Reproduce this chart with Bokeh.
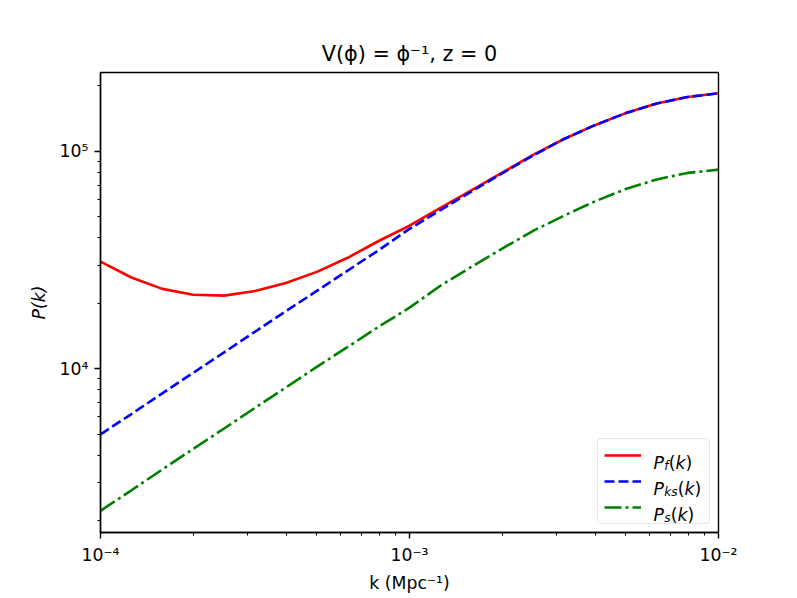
import math
from bokeh.plotting import figure
from bokeh.models import (FixedTicker, CustomJSTickFormatter, Legend, LegendItem,
                          Label, Range1d)
from bokeh.embed import file_html
from bokeh.resources import INLINE

# ---------------- data ----------------
k = [1.000e-4, 1.259e-4, 1.585e-4, 1.995e-4, 2.512e-4, 3.162e-4, 3.981e-4,
     5.012e-4, 6.310e-4, 7.943e-4, 1.000e-3, 1.259e-3, 1.585e-3, 1.995e-3,
     2.512e-3, 3.162e-3, 3.981e-3, 5.012e-3, 6.310e-3, 7.943e-3, 1.000e-2]
P_f = [31100, 26300, 23300, 21900, 21700, 22800, 24800, 27900, 32400, 38700,
       45500, 55000, 66200, 79800, 96400, 114000, 132000, 150000, 166000,
       178000, 185000]
P_ks = [4990, 6190, 7710, 9570, 11900, 14800, 18400, 22800, 28300, 35100,
        44000, 53700, 65300, 79300, 95700, 114000, 132000, 150000, 166000,
        178000, 185000]
P_s = [2220, 2760, 3440, 4280, 5310, 6610, 8200, 10200, 12600, 15600, 19100,
       24100, 29400, 35700, 43100, 50600, 58900, 67100, 74300, 79600, 82400]

x_major = [1e-4, 1e-3, 1e-2]
x_minor = [m * d for d in (1e-4, 1e-3) for m in range(2, 10)]
y_major = [1e4, 1e5]
y_minor = [m * d for d in (1e3, 1e4, 1e5) for m in range(2, 10)]

title_text = "V(ϕ) = ϕ⁻¹, z = 0"
xlabel = "k (Mpc⁻¹)"
ylabel = "P(k)"

FONT = "DejaVu Sans"
FS = 17.3          # 10pt at ~125 dpi
XR = (1e-4, 1e-2)
YR = (1765, 230600)
FW, FH = 618, 460

p = figure(x_axis_type="log", y_axis_type="log",
           x_range=Range1d(*XR), y_range=Range1d(*YR),
           frame_width=FW, frame_height=FH,
           min_border_left=100, min_border_right=79,
           min_border_top=72, min_border_bottom=66,
           output_backend="svg", toolbar_location=None,
           title=title_text)

p.background_fill_color = "white"
p.border_fill_color = "white"
p.outline_line_color = "black"
p.outline_line_width = 1.4
p.xgrid.visible = False
p.ygrid.visible = False

p.title.text_font = FONT
p.title.text_font_size = "20.75px"
p.title.text_font_style = "normal"
p.title.align = "center"
p.title.text_color = "black"
p.title.standoff = 14

fmt = CustomJSTickFormatter(code="""
const e = Math.round(Math.log10(tick));
const sup = {"-":"\u207b","0":"\u2070","1":"\u00b9","2":"\u00b2","3":"\u00b3",
             "4":"\u2074","5":"\u2075","6":"\u2076","7":"\u2077","8":"\u2078","9":"\u2079"};
return "10" + String(e).split("").map(c => sup[c]).join("");
""")

for ax, maj, mnr, lab in ((p.xaxis[0], x_major, x_minor, xlabel),
                          (p.yaxis[0], y_major, y_minor, ylabel)):
    ax.ticker = FixedTicker(ticks=maj, minor_ticks=mnr)
    ax.formatter = fmt
    ax.axis_label = lab
    ax.axis_label_text_font = FONT
    ax.axis_label_text_font_size = f"{FS}px"
    ax.axis_label_text_color = "black"
    ax.major_label_text_font = FONT
    ax.major_label_text_font_size = f"{FS}px"
    ax.major_label_text_color = "black"
    ax.axis_line_color = "black"
    ax.axis_line_width = 1.4
    ax.major_tick_line_color = "black"
    ax.major_tick_line_width = 1.4
    ax.major_tick_in = 0
    ax.major_tick_out = 6
    ax.minor_tick_line_color = "black"
    ax.minor_tick_line_width = 1
    ax.minor_tick_in = 0
    ax.minor_tick_out = 3
    ax.major_label_standoff = 6
    ax.axis_label_standoff = 8

p.xaxis[0].major_label_standoff = 6
p.xaxis[0].axis_label_standoff = 5
p.yaxis[0].axis_label_text_font_style = "italic"
p.xaxis[0].axis_label_text_font_style = "normal"

LW = 2.6
r_f = p.line(k, P_f, line_color="#ff0000", line_width=LW, line_join="round")
r_ks = p.line(k, P_ks, line_color="#0000ff", line_width=LW, line_dash="10 4")
r_s = p.line(k, P_s, line_color="#008000", line_width=LW, line_dash="17 4 3 4")

# legend box with glyph samples; texts overlaid below (with subscripts)
PAD, SPC, GW, GH, STD, LWID, MARG = 6, 6, 37, 20, 11, 51, 8
legend = Legend(items=[LegendItem(label=" ", renderers=[r_f]),
                       LegendItem(label=" ", renderers=[r_ks]),
                       LegendItem(label=" ", renderers=[r_s])],
                location="bottom_right", margin=MARG, padding=PAD,
                spacing=SPC, glyph_width=GW, glyph_height=GH,
                label_standoff=STD, label_width=LWID, label_height=GH,
                border_line_color="#cccccc", border_line_width=1,
                background_fill_color="white", background_fill_alpha=0.0)
if "border_radius" in Legend.properties():
    legend.border_radius = 4
p.add_layout(legend)


def sx2x(sx):
    a, b = math.log10(XR[0]), math.log10(XR[1])
    return 10 ** (a + sx / FW * (b - a))


def sy2y(sy):
    a, b = math.log10(YR[0]), math.log10(YR[1])
    return 10 ** (a + sy / FH * (b - a))


box_w = 2 * PAD + GW + STD + LWID
box_h = 2 * PAD + 3 * GH + 2 * SPC
box_left = FW - MARG - box_w
box_top = MARG + box_h
text_left = box_left + PAD + GW + STD
SUB = FS * 0.7
sub_adv = {"f": 0.352, "k": 0.579, "s": 0.521}
for i, sub in enumerate(["f", "ks", "s"]):
    cy = box_top - PAD - GH / 2 - i * (GH + SPC)
    base = cy - 6.3
    pieces = [("P", "italic", FS, 0.0, 0.603 * FS + 0.3),
              (sub, "italic", SUB, -3.5, sum(sub_adv[c] for c in sub) * SUB + 0.3),
              ("(", "normal", FS, 0.0, 0.390 * FS),
              ("k", "italic", FS, 0.0, 0.579 * FS),
              (")", "normal", FS, 0.0, 0.390 * FS)]
    xpos = text_left
    for txt, style, size, dy, adv in pieces:
        p.add_layout(Label(x=sx2x(xpos), y=sy2y(base + dy), text=txt,
                           text_font=FONT, text_font_style=style,
                           text_font_size=f"{size:.1f}px", text_color="black",
                           text_align="left", text_baseline="alphabetic",
                           level="overlay"))
        xpos += adv

open("out.html", "w").write(file_html(p, INLINE))
